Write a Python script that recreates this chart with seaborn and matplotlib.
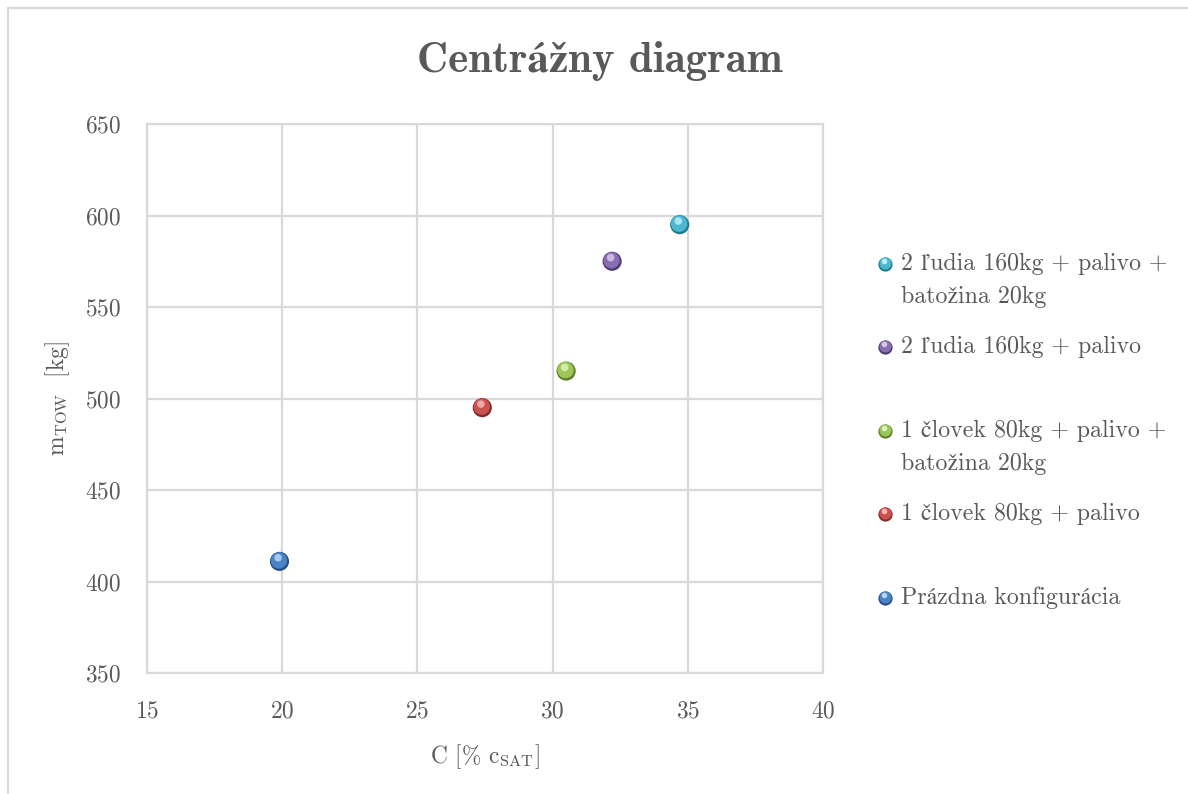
import numpy as np
import pandas as pd
import matplotlib
matplotlib.use("Agg")
import matplotlib.pyplot as plt
import matplotlib.transforms as mtransforms
from matplotlib.lines import Line2D
from matplotlib.patches import Rectangle
import seaborn as sns

# ---- data ----
configs = [
    "Prázdna konfigurácia",
    "1 človek 80kg + palivo",
    "1 človek 80kg + palivo +\nbatožina 20kg",
    "2 ľudia 160kg + palivo",
    "2 ľudia 160kg + palivo +\nbatožina 20kg",
]
c_pct = [19.9, 27.4, 30.5, 32.2, 34.7]
m_tow = [411, 495, 515, 575, 595]
colors = ["#4a82c6", "#c9524f", "#9cc65a", "#8a6db0", "#4cb7cf"]
dark_colors = ["#234f86", "#862a28", "#5b7d26", "#4d3a70", "#1d7a90"]
light_colors = ["#b8d4f4", "#f4b6b4", "#def2b8", "#d5c6ea", "#bdeef8"]

x_ticks = [15, 20, 25, 30, 35, 40]
y_ticks = [350, 400, 450, 500, 550, 600, 650]

df = pd.DataFrame({"C": c_pct, "m": m_tow, "cfg": configs})

sns.set_theme(style="white")
plt.rcParams["font.family"] = ["cmr10", "STIXGeneral", "DejaVu Serif"]
plt.rcParams["mathtext.fontset"] = "cm"
plt.rcParams["axes.formatter.use_mathtext"] = True

TXT = "#595959"
GRID = "#d9d9d9"
FS = 16.8

fig = plt.figure(figsize=(11.88, 7.94), dpi=100)
ax = fig.add_axes([147 / 1188, 1 - 673 / 794, 676 / 1188, 549 / 794])

# outer chart border (top/left visible)
fig.patches.append(Rectangle((8 / 1188, -0.05), 1.2, 1 - 8 / 794 + 0.05,
                             transform=fig.transFigure, fill=False,
                             edgecolor="#d9d9d9", linewidth=1.5))

# sphere-like markers: dark rim, body, highlight
pal_dark = dict(zip(configs, dark_colors))
pal = dict(zip(configs, colors))
pal_light = dict(zip(configs, light_colors))
sns.scatterplot(data=df, x="C", y="m", hue="cfg", palette=pal_dark, s=190,
                linewidth=0, legend=False, ax=ax, zorder=3)
sns.scatterplot(data=df, x="C", y="m", hue="cfg", palette=pal, s=140,
                linewidth=0, legend=False, ax=ax, zorder=4,
                transform=mtransforms.offset_copy(ax.transData, fig=fig, x=-0.4, y=0.7, units="points"))
sns.scatterplot(data=df, x="C", y="m", hue="cfg", palette=pal_light, s=30,
                linewidth=0, legend=False, ax=ax, zorder=5, alpha=0.85,
                transform=mtransforms.offset_copy(ax.transData, fig=fig, x=-1.0, y=2.6, units="points"))

ax.set_xlim(15, 40)
ax.set_ylim(350, 650)
ax.set_xticks(x_ticks)
ax.set_yticks(y_ticks)
ax.grid(True, color=GRID, linewidth=1.6)
for sp in ax.spines.values():
    sp.set_color(GRID)
    sp.set_linewidth(1.6)
ax.tick_params(axis="both", length=0, labelsize=FS, labelcolor=TXT)
ax.tick_params(axis="y", pad=19)
ax.tick_params(axis="x", pad=20)
ax.set_axisbelow(True)

ax.set_xlabel(r"C [% $\mathrm{c}_{\mathrm{SAT}}$]", fontsize=FS, color=TXT, labelpad=14)
ax.set_ylabel(r"$\mathrm{m}_{\mathrm{TOW}}$  [kg]", fontsize=FS, color=TXT, labelpad=9)

fig.text(600 / 1188, 1 - 72 / 794, "Centrážny diagram", ha="center", va="baseline",
         fontsize=31, fontweight="bold", color=TXT,
         family=["cmb10", "STIXGeneral", "DejaVu Serif"])

# legend (Excel-style equal slots, top to bottom)
leg_y = [264, 347, 431, 514, 598]
order = list(range(len(configs)))[::-1]
for slot, i in enumerate(order):
    ypx = leg_y[slot]
    yf = 1 - ypx / 794
    for s, c, off in ((105, dark_colors[i], (0, 0)), (75, colors[i], (-0.3, 0.5)), (16, light_colors[i], (-0.8, 1.9))):
        fig.add_artist(Line2D([885 / 1188], [yf], marker="o", markersize=np.sqrt(s), color=c,
                              markeredgewidth=0, linestyle="none",
                              transform=mtransforms.offset_copy(fig.transFigure, fig=fig, x=off[0], y=off[1], units="points")))
    lines = configs[i].split("\n")
    for k, line in enumerate(lines):
        fig.text(901 / 1188, 1 - (ypx + 33 * k) / 794, line, ha="left", va="center",
                 fontsize=17.2, color=TXT)

fig.savefig("out.png", dpi=100)
